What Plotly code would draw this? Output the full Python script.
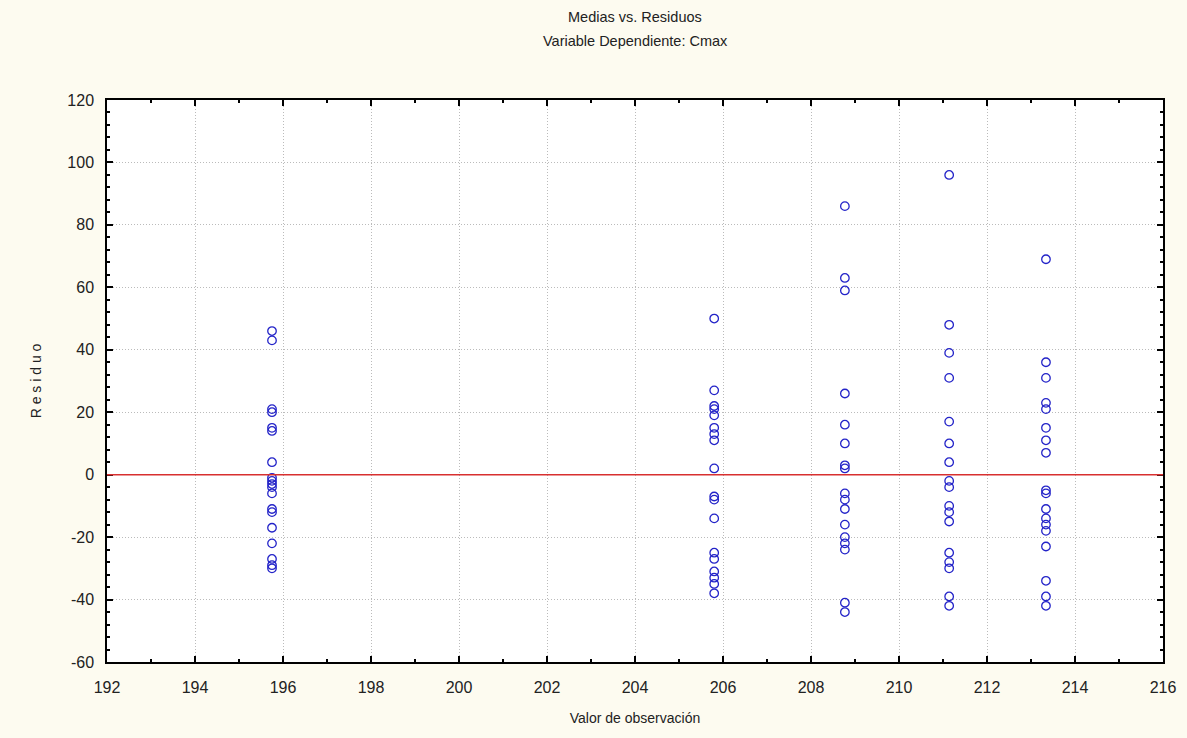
import plotly.graph_objects as go

# Fitted means (x) for each group, and residuals
group_means = [195.75, 205.8, 208.77, 211.14, 213.34]
residuals_g1 = [46, 43, 21, 20, 15, 14, 4, -1, -2, -3, -4, -6, -11, -12, -17, -22, -27, -29, -30]
residuals_g2 = [50, 27, 22, 21, 19, 15, 13, 11, 2, -7, -8, -14, -25, -27, -31, -33, -35, -38]
residuals_g3 = [86, 63, 59, 26, 16, 10, 3, 2, -6, -8, -11, -16, -20, -22, -24, -41, -44]
residuals_g4 = [96, 48, 39, 31, 17, 10, 4, -2, -4, -10, -12, -15, -25, -28, -30, -39, -42]
residuals_g5 = [69, 36, 31, 23, 21, 15, 11, 7, -5, -6, -11, -14, -16, -18, -23, -34, -39, -42]

groups = [residuals_g1, residuals_g2, residuals_g3, residuals_g4, residuals_g5]
xs, ys = [], []
for m, g in zip(group_means, groups):
    xs += [m] * len(g)
    ys += g

x_ticks = list(range(192, 217, 2))
y_ticks = list(range(-60, 121, 20))
y_ticktext = [str(v) for v in y_ticks]  # plain hyphen minus like the reference

FONT = "Liberation Sans, Arial, sans-serif"
TXT = "#222222"

fig = go.Figure()
fig.add_trace(go.Scatter(
    x=xs, y=ys, mode="markers",
    marker=dict(symbol="circle-open", size=8.5, color="#2323C8", line=dict(width=1.3)),
    showlegend=False, hoverinfo="x+y"))

fig.add_shape(type="line", xref="paper", x0=0, x1=1, yref="y", y0=0, y1=0,
              line=dict(color="#D83030", width=1.5))

axis_common = dict(
    showline=True, linecolor="black", linewidth=1.5, mirror="ticks",
    ticks="inside", ticklen=6, tickcolor="black", tickwidth=1.5,
    showgrid=True, gridcolor="#BBBBBB", griddash="1px,2px", gridwidth=1,
    zeroline=False,
    tickfont=dict(family=FONT, size=16, color=TXT),
)

fig.update_xaxes(**axis_common, range=[192, 216], tickvals=x_ticks, ticklabelstandoff=10,
                 minor=dict(dtick=1, tick0=192, ticks="inside", ticklen=3, tickcolor="black", showgrid=False),
                 title=dict(text="Valor de observación", font=dict(family=FONT, size=14, color=TXT), standoff=18))
fig.update_yaxes(**axis_common, range=[-60, 120], tickvals=y_ticks, ticktext=y_ticktext, ticklabelstandoff=8,
                 minor=dict(dtick=4, tick0=-60, ticks="inside", ticklen=3, tickcolor="black", showgrid=False),
                 title=dict(text="R e s i d u o", font=dict(family=FONT, size=14, color=TXT), standoff=22))

fig.update_layout(
    width=1187, height=738,
    margin=dict(l=107, r=24, t=100, b=76),
    paper_bgcolor="#FDFBF0", plot_bgcolor="white",
    annotations=[
        dict(text="Medias vs. Residuos", xref="paper", yref="paper", x=0.5, y=1,
             yshift=83, xanchor="center", yanchor="middle", showarrow=False,
             font=dict(family=FONT, size=14.5, color=TXT)),
        dict(text="Variable Dependiente: Cmax", xref="paper", yref="paper", x=0.5, y=1,
             yshift=59, xanchor="center", yanchor="middle", showarrow=False,
             font=dict(family=FONT, size=14.5, color=TXT)),
    ],
)

fig.write_html("out.html", config={"displayModeBar": False},
               post_script="document.body.style.margin='0px';document.body.style.padding='0px';")
